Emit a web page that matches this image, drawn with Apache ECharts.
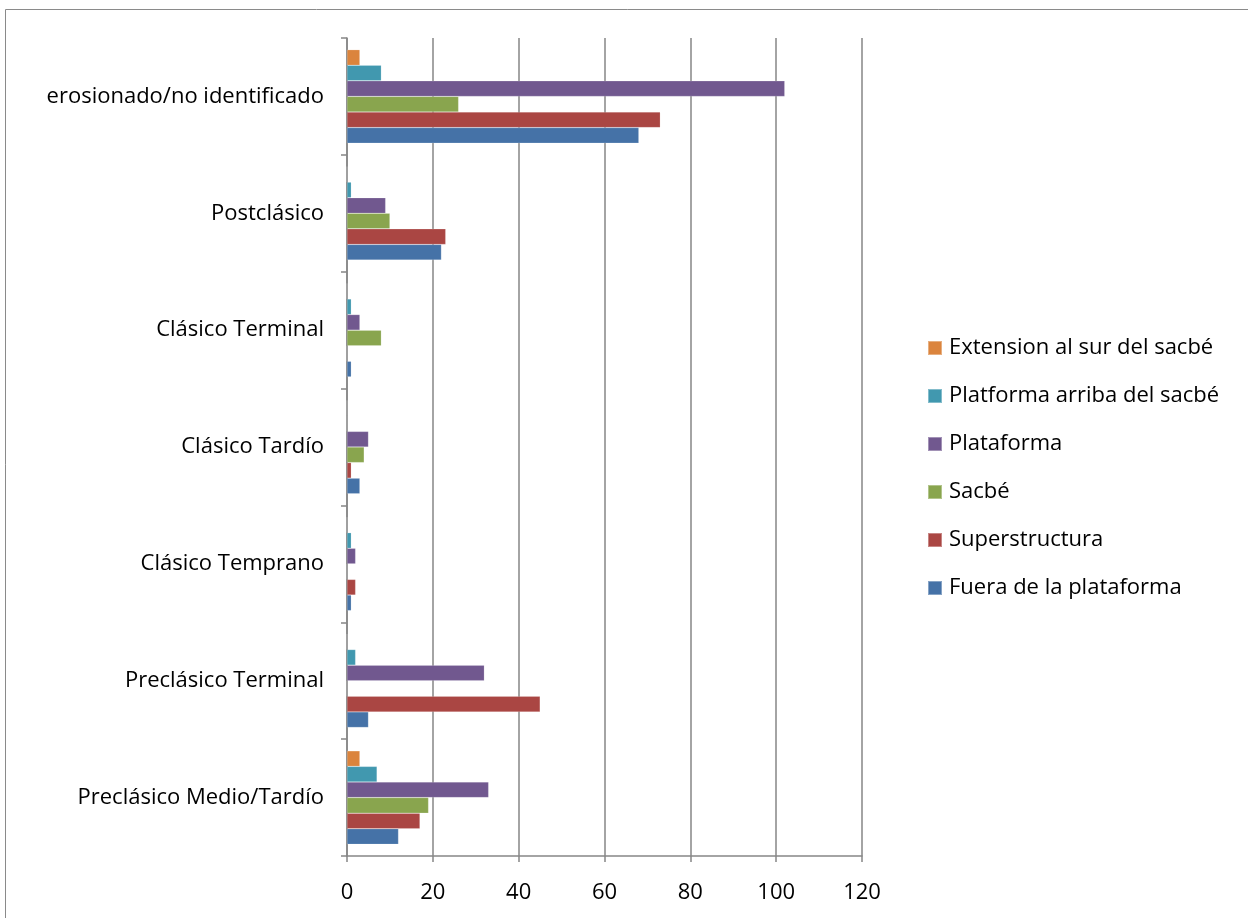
<!DOCTYPE html>
<html>
<head>
<meta charset="utf-8">
<script src="https://cdn.jsdelivr.net/npm/echarts@6/dist/echarts.min.js"></script>
<style>
html,body{margin:0;padding:0;background:#fff;}
#chart{width:1248px;height:918px;}
</style>
</head>
<body>
<div id="chart"></div>
<script>
const categories = ['Preclásico Medio/Tardío','Preclásico Terminal','Clásico Temprano','Clásico Tardío','Clásico Terminal','Postclásico','erosionado/no identificado'];
const seriesNames = ['Extension al sur del sacbé','Platforma arriba del sacbé','Plataforma','Sacbé','Superstructura','Fuera de la plataforma'];
const extension = [3, 0, 0, 0, 0, 0, 3];
const platformaArriba = [7, 2, 1, 0, 1, 1, 8];
const plataforma = [33, 32, 2, 5, 3, 9, 102];
const sacbe = [19, 0, 0, 4, 8, 10, 26];
const superstructura = [17, 45, 2, 1, 0, 23, 73];
const fuera = [12, 5, 1, 3, 1, 22, 68];
const xTicks = [0, 20, 40, 60, 80, 100, 120];
const colors = ['#DB843D','#4198AF','#71588F','#89A54E','#AA4643','#4572A7'];

const values = [extension, platformaArriba, plataforma, sacbe, superstructura, fuera];
const font = '"Open Sans", sans-serif';

const chart = echarts.init(document.getElementById('chart'));
chart.setOption({
  animation: false,
  color: colors,
  graphic: [{
    type: 'rect',
    shape: {x: 5.5, y: 9.5, width: 1400, height: 1000},
    style: {fill: 'none', stroke: '#8a8a8a', lineWidth: 1},
    silent: true, z: -1
  }],
  grid: {left: 347, right: 1248 - 862, top: 38, bottom: 918 - 856, containLabel: false},
  legend: {
    orient: 'vertical',
    left: 922,
    top: 332,
    itemWidth: 14,
    itemHeight: 14,
    itemGap: 26,
    icon: 'rect',
    data: seriesNames,
    textStyle: {fontFamily: font, fontSize: 22, color: '#000', padding: [0,0,0,2]}
  },
  xAxis: {
    type: 'value',
    min: xTicks[0],
    max: xTicks[xTicks.length - 1],
    interval: 20,
    axisLine: {show: true, lineStyle: {color: '#868686', width: 1.5}},
    axisTick: {show: true, length: 6, lineStyle: {color: '#868686', width: 1.5}},
    axisLabel: {fontFamily: font, fontSize: 22, color: '#000', margin: 26},
    splitLine: {show: true, lineStyle: {color: '#868686', width: 1.5}}
  },
  yAxis: {
    type: 'category',
    data: categories,
    axisLine: {show: true, lineStyle: {color: '#868686', width: 1.5}},
    axisTick: {show: true, length: 6, lineStyle: {color: '#868686', width: 1.5}},
    axisLabel: {fontFamily: font, fontSize: 22, color: '#000', margin: 23, padding: [4, 0, 0, 0]},
    splitLine: {show: false}
  },
  series: seriesNames.map((n, i) => ({
    name: n,
    type: 'bar',
    data: values[i],
    barGap: '0%',
    barCategoryGap: '20%',
    itemStyle: {color: colors[i], borderColor: 'rgba(255,255,255,0.35)', borderWidth: 0.5}
  }))
});
</script>
</body>
</html>
